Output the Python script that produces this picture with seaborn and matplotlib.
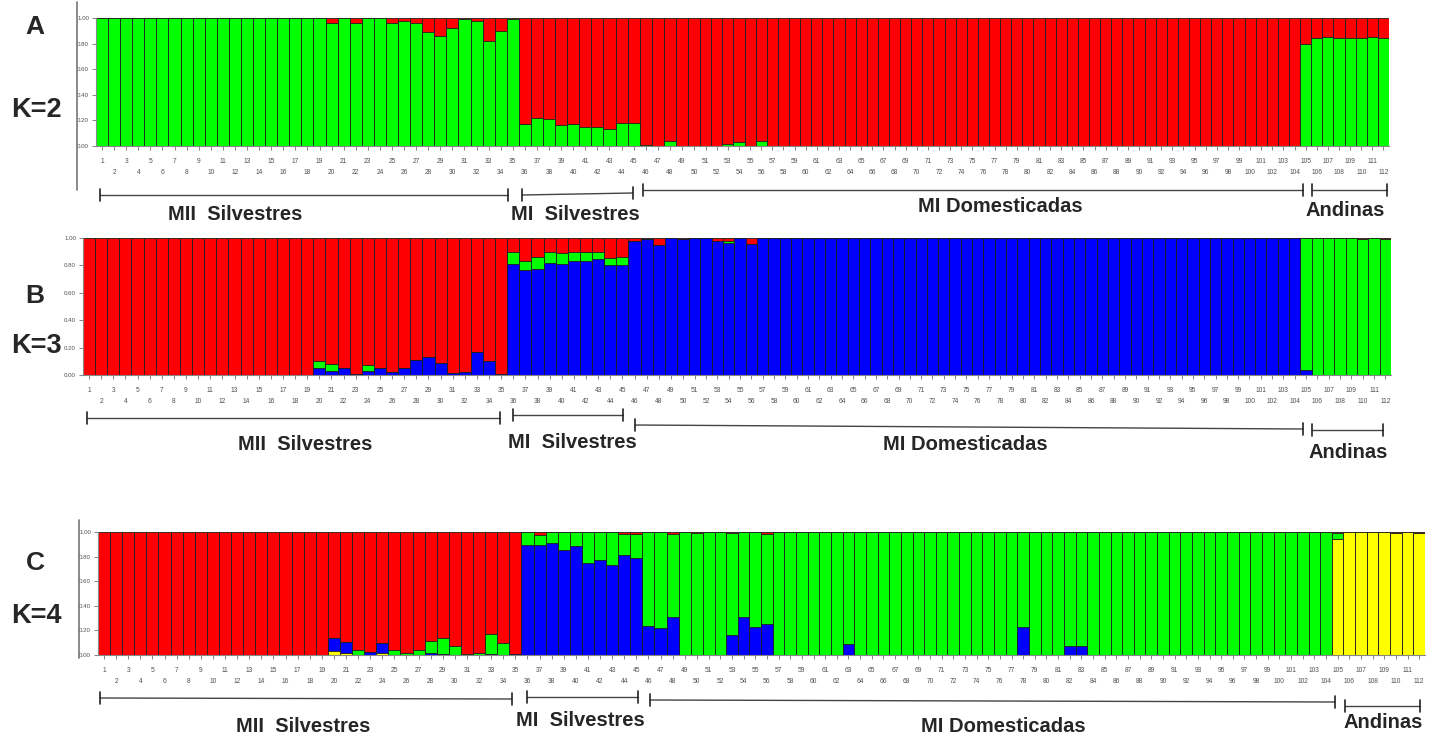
import numpy as np
import matplotlib
matplotlib.use("Agg")
import matplotlib.pyplot as plt
import seaborn as sns
from matplotlib.lines import Line2D

# ---------------- data ----------------
individuals = list(range(1, 113))

# K=2 : green membership (red = remainder)
A_green = ([1.0] * 19
           + [0.96, 1.0, 0.96, 1.0, 1.0, 0.96, 0.98, 0.96, 0.89, 0.86, 0.92, 0.99, 0.98, 0.82, 0.90, 0.99]
           + [0.17, 0.22, 0.21, 0.165, 0.17, 0.145, 0.145, 0.13, 0.18, 0.18]
           + [0.005, 0.0, 0.04, 0.0, 0.0]
           + [0.0, 0.0, 0.015, 0.035, 0.0, 0.04]
           + [0.0] * 48
           + [0.80, 0.84, 0.85, 0.84, 0.84, 0.84, 0.85, 0.84])

# K=3 : blue, green (red = remainder)
B_blue = ([0.0] * 19
          + [0.05, 0.027, 0.05, 0.007, 0.027, 0.05, 0.02, 0.05, 0.11, 0.134, 0.085, 0.012, 0.025, 0.17, 0.105, 0.007]
          + [0.81, 0.763, 0.776, 0.817, 0.81, 0.834, 0.834, 0.846, 0.80, 0.80]
          + [0.976, 0.99, 0.95, 1.0, 0.995, 1.0, 1.0, 0.98, 0.96, 1.0, 0.955]
          + [1.0] * 48
          + [0.035, 0.0, 0.0, 0.0, 0.0, 0.0, 0.0, 0.0])
B_green = ([0.0] * 19
           + [0.055, 0.053, 0.0, 0.0, 0.046, 0.0, 0.0, 0.0, 0.0, 0.0, 0.0, 0.0, 0.0, 0.0, 0.0, 0.0]
           + [0.09, 0.071, 0.083, 0.081, 0.08, 0.061, 0.066, 0.054, 0.054, 0.059]
           + [0.0, 0.0, 0.0, 0.0, 0.0, 0.0, 0.0, 0.0, 0.02, 0.0, 0.0]
           + [0.0] * 48
           + [0.965, 1.0, 1.0, 1.0, 1.0, 0.99, 1.0, 0.99])

# K=4 : yellow, blue, green (red = remainder)
C_yellow = ([0.0] * 19
            + [0.032, 0.019, 0.0, 0.0, 0.019, 0.0, 0.0, 0.0, 0.0, 0.0, 0.0, 0.0, 0.0, 0.0, 0.0, 0.0]
            + [0.0] * 10
            + [0.0] * 11
            + [0.0] * 48
            + [0.94, 1.0, 1.0, 1.0, 1.0, 0.995, 1.0, 0.995])
C_blue = ([0.0] * 19
          + [0.108, 0.089, 0.0, 0.022, 0.081, 0.0, 0.0, 0.0, 0.014, 0.005, 0.0, 0.0, 0.003, 0.008, 0.0, 0.005]
          + [0.892, 0.892, 0.914, 0.851, 0.886, 0.749, 0.77, 0.73, 0.816, 0.79]
          + [0.235, 0.216, 0.305, 0.0, 0.0, 0.0, 0.0, 0.163, 0.313, 0.229, 0.25]
          + [0.0] * 6 + [0.093] + [0.0] * 14 + [0.229] + [0.0] * 3 + [0.07, 0.07] + [0.0] * 21
          + [0.0] * 8)
C_green = ([0.0] * 19
           + [0.0, 0.0, 0.04, 0.0, 0.0, 0.04, 0.014, 0.04, 0.10, 0.13, 0.076, 0.008, 0.016, 0.162, 0.095, 0.0]
           + [0.108, 0.081, 0.086, 0.149, 0.114, 0.251, 0.23, 0.27, 0.17, 0.196]
           + [0.765, 0.784, 0.675, 1.0, 0.995, 1.0, 1.0, 0.832, 0.687, 0.771, 0.736]
           + [1.0] * 6 + [0.907] + [1.0] * 14 + [0.771] + [1.0] * 3 + [0.93, 0.93] + [1.0] * 21
           + [0.05, 0.0, 0.0, 0.0, 0.0, 0.0, 0.0, 0.0])

groups = ["MII  Silvestres", "MI  Silvestres", "MI Domesticadas", "Andinas"]
panel_letters = ["A", "B", "C"]
panel_k = ["K=2", "K=3", "K=4"]
ytick_vals = [0.0, 0.2, 0.4, 0.6, 0.8, 1.0]
ytick_labels = ["0.00", "0.20", "0.40", "0.60", "0.80", "1.00"]

RED, GREEN, BLUE, YELLOW = "#ff0000", "#00ff00", "#0000ff", "#ffff00"

# ---------------- figure ----------------
sns.set_style("white")
plt.rcParams["font.family"] = ["Liberation Sans", "DejaVu Sans"]

W, H = 1440, 740
fig = plt.figure(figsize=(W / 100, H / 100), dpi=100)


def px_axes(l, t, r, b):
    return fig.add_axes([l / W, 1 - b / H, (r - l) / W, (b - t) / H])


def make_scale(r):
    b = 49.5
    def fwd(x):
        x = np.asarray(x, dtype=float)
        return np.where(x < b, x, b + (x - b) * r)
    def inv(y):
        y = np.asarray(y, dtype=float)
        return np.where(y < b, y, b + (y - b) / r)
    return fwd, inv


def draw_panel(ax, layers, ratio):
    # layers bottom -> top ; red is the remainder on top
    stacks = []
    cum = np.zeros(len(individuals))
    for vals, col in layers:
        cum = cum + np.asarray(vals, dtype=float)
        stacks.append((cum.copy(), col))
    total = np.clip(cum, 0, None)
    red = np.clip(1.0 - total, 0, None)
    stacks.append((cum + red, RED))
    for heights, col in reversed(stacks):
        sns.barplot(x=individuals, y=heights, color=col, width=1.0, saturation=1,
                    edgecolor="#1e1e1e", linewidth=0.6, errorbar=None, ax=ax)
    ax.set_xscale("function", functions=make_scale(ratio))
    ax.set_xlim(-0.5, 111.5)
    ax.set_ylim(0, 1.0)
    odd = [i for i in individuals if i % 2 == 1]
    even = [i for i in individuals if i % 2 == 0]
    ax.set_xticks([i - 1 for i in odd], [str(i) for i in odd])
    ax.set_xticks([i - 1 for i in even], [str(i) for i in even], minor=True)
    ax.tick_params(axis="x", which="both", length=3, width=0.5, color="#555555",
                   labelsize=4.8, labelcolor="#505050", bottom=True)
    ax.tick_params(axis="x", which="major", pad=5.5)
    ax.tick_params(axis="x", which="minor", pad=13.5)
    ax.set_yticks(ytick_vals, ytick_labels)
    ax.tick_params(axis="y", length=3, width=0.5, color="#555555", labelsize=4.4,
                   labelcolor="#505050", pad=2, left=True)
    ax.set_xlabel("")
    ax.set_ylabel("")
    for s in ["top", "right"]:
        ax.spines[s].set_visible(False)
    for s in ["left", "bottom"]:
        ax.spines[s].set_color("#888888")
        ax.spines[s].set_linewidth(0.8)


axA = px_axes(96, 18, 1389, 146)
draw_panel(axA, [(A_green, GREEN)], 11.11 / 12.08)
axB = px_axes(83, 238, 1391, 375)
draw_panel(axB, [(B_blue, BLUE), (B_green, GREEN)], 11.32 / 12.12)
axC = px_axes(98, 532, 1425, 655)
draw_panel(axC, [(C_yellow, YELLOW), (C_blue, BLUE), (C_green, GREEN)], 11.65 / 12.1)

# frame lines from the original screenshots
for (x, y0, y1) in [(77, 2, 190), (79, 520, 658)]:
    fig.add_artist(Line2D([x / W, x / W], [1 - y0 / H, 1 - y1 / H], color="#777777", lw=1.2))

# panel labels
letter_y = [27, 296, 563]
k_y = [110, 346, 616]
for L, K, ly, ky in zip(panel_letters, panel_k, letter_y, k_y):
    fig.text(35 / W, 1 - ly / H, L, ha="center", va="center", fontsize=19, fontweight="bold")
    fig.text(36 / W, 1 - ky / H, K, ha="center", va="center", fontsize=19.5, fontweight="bold")

# group brackets and labels
brackets = [
    [(100, 508, 195, 195), (522, 633, 195, 193), (643, 1303, 190, 190), (1312, 1387, 190, 190)],
    [(87, 500, 418, 418), (513, 623, 415, 415), (635, 1303, 425, 429), (1312, 1383, 430, 430)],
    [(100, 512, 698, 699), (527, 638, 697, 697), (650, 1335, 700, 702), (1345, 1420, 706, 706)],
]
label_pos = [
    [(235, 215), (575, 215), (1000, 207), (1345, 210)],
    [(305, 445), (572, 443), (965, 445), (1348, 453)],
    [(303, 727), (580, 720), (1003, 727), (1383, 722)],
]
cap = 6
for row_b, row_l in zip(brackets, label_pos):
    for (x0, x1, y0, y1), (tx, ty), name in zip(row_b, row_l, groups):
        fig.add_artist(Line2D([x0 / W, x1 / W], [1 - y0 / H, 1 - y1 / H], color="#444444", lw=1.0))
        fig.add_artist(Line2D([x0 / W, x0 / W], [1 - (y0 - cap) / H, 1 - (y0 + cap) / H], color="#222222", lw=1.2))
        fig.add_artist(Line2D([x1 / W, x1 / W], [1 - (y1 - cap) / H, 1 - (y1 + cap) / H], color="#222222", lw=1.2))
        fig.text(tx / W, 1 - ty / H, name, ha="center", va="center", fontsize=14.5, fontweight="bold")

fig.savefig("out.png", dpi=100, facecolor="white")
